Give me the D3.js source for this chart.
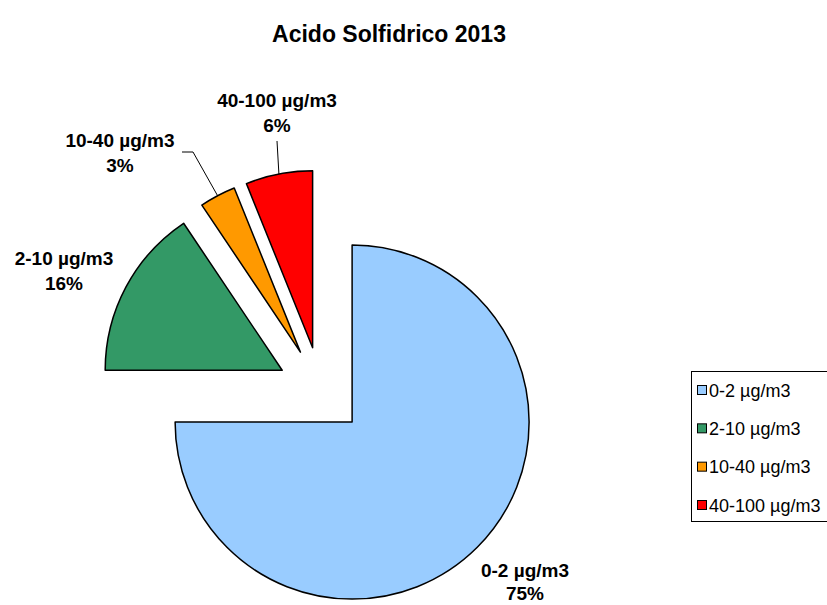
<!DOCTYPE html>
<html>
<head>
<meta charset="utf-8">
<script src="https://cdn.jsdelivr.net/npm/d3@7"></script>
<style>
  html, body { margin: 0; padding: 0; background: #fff; }
  svg { display: block; font-family: "Liberation Sans", Arial, sans-serif; }
</style>
</head>
<body>
<svg id="chart" width="827" height="605"></svg>
<script>
const title = "Acido Solfidrico 2013";
const categories = ["0-2 µg/m3", "2-10 µg/m3", "10-40 µg/m3", "40-100 µg/m3"];
const values = [75, 15.6, 3.3, 6.1];
const colors = ["#99CCFF", "#339966", "#FF9900", "#FF0000"];

// layout (not data)
const W = 827, H = 605;
const cx = 321, cy = 391, R = 177, explode = 44;
const labelAnchors = [[525, 577], [64, 265], [120, 147], [277, 107]];
const lineH = [22.5, 24.5, 24.5, 24.5];

const svg = d3.select("#chart");

svg.append("text")
  .attr("x", 389).attr("y", 42)
  .attr("text-anchor", "middle")
  .attr("font-weight", "bold")
  .attr("font-size", 23)
  .text(title);

const total = d3.sum(values);
const pie = d3.pie().sort(null).value(d => d).startAngle(0).endAngle(2 * Math.PI);
const arcs = pie(values);
const arc = d3.arc().innerRadius(0).outerRadius(R);

const g = svg.append("g").attr("transform", `translate(${cx},${cy})`);

function offset(a) {
  const mid = (a.startAngle + a.endAngle) / 2;
  return [explode * Math.sin(mid), -explode * Math.cos(mid)];
}

g.selectAll("path.slice").data(arcs).join("path")
  .attr("class", "slice")
  .attr("d", arc)
  .attr("transform", d => { const o = offset(d); return `translate(${o[0]},${o[1]})`; })
  .attr("fill", (d, i) => colors[i])
  .attr("stroke", "#000")
  .attr("stroke-width", 1.5)
  .attr("stroke-linejoin", "round");

// leader lines for small slices (from label to slice outer arc midpoint)
function arcMid(d, rr) {
  const o = offset(d);
  const mid = (d.startAngle + d.endAngle) / 2;
  return [cx + o[0] + rr * Math.sin(mid), cy + o[1] - rr * Math.cos(mid)];
}
const leaders = [
  { i: 2, pts: [[182, 152], [193, 152]] },
  { i: 3, pts: [[277, 141]] }
];
leaders.forEach(l => {
  const end = arcMid(arcs[l.i], R);
  const pts = l.pts.concat([end]);
  svg.append("path")
    .attr("d", d3.line()(pts))
    .attr("fill", "none")
    .attr("stroke", "#000")
    .attr("stroke-width", 1);
});

// data labels
arcs.forEach((d, i) => {
  const [lx, ly] = labelAnchors[i];
  const t = svg.append("text")
    .attr("text-anchor", "middle")
    .attr("font-weight", "bold")
    .attr("font-size", 19)
    .attr("fill", "#000");
  t.append("tspan").attr("x", lx).attr("y", ly).text(categories[i]);
  t.append("tspan").attr("x", lx).attr("y", ly + lineH[i])
    .text(Math.round(d.value / total * 100) + "%");
});

// legend
const lg = svg.append("g");
lg.append("rect")
  .attr("x", 691.5).attr("y", 371.5)
  .attr("width", 150).attr("height", 150)
  .attr("fill", "#fff").attr("stroke", "#000").attr("stroke-width", 1);

const ly = d3.scalePoint().domain(categories).range([390, 505]);
categories.forEach((c, i) => {
  lg.append("rect")
    .attr("x", 697.5).attr("y", ly(c) - 4.5)
    .attr("width", 9).attr("height", 9)
    .attr("fill", colors[i]).attr("stroke", "#000").attr("stroke-width", 1);
  lg.append("text")
    .attr("x", 709).attr("y", ly(c) + 6.5)
    .attr("font-size", 18)
    .text(c);
});
</script>
</body>
</html>
